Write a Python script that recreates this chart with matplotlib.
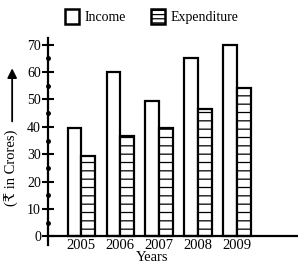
import numpy as np
import matplotlib.pyplot as plt
from matplotlib.patches import Patch

plt.rcParams['font.family'] = ['Liberation Serif', 'DejaVu Serif']
plt.rcParams['hatch.linewidth'] = 0.9

# Données
years = ['2005', '2006', '2007', '2008', '2009']
income = [39.5, 60, 49.5, 65, 70]
expenditure = [29.5, 36.5, 39.5, 46.5, 54]
yticks = [0, 10, 20, 30, 40, 50, 60, 70]
ydots = [5, 15, 25, 35, 45, 55, 65]

fig = plt.figure(figsize=(3.04, 2.73), dpi=100)
ax = fig.add_axes([0.158, 0.1026, 0.822, 0.758])

x = np.arange(len(years))
w = 0.35
ax.bar(x - w / 2, income, w, color='white', edgecolor='black', linewidth=1.6)
ax.bar(x + w / 2, expenditure, w, color='white', edgecolor='black',
       linewidth=1.6, hatch='--')

ax.set_xlim(-0.85, 5.56)
ax.set_ylim(-3.1, 72.4)

for s in ['top', 'right', 'bottom']:
    ax.spines[s].set_visible(False)
ax.spines['left'].set_linewidth(1.6)
ax.axhline(0, color='black', lw=1.6)

ax.set_yticks(yticks)
ax.tick_params(axis='y', direction='inout', length=8, width=1.5, labelsize=10, pad=1)
ax.plot([-0.85] * len(ydots), ydots, 'ko', ms=2.5, clip_on=False)

ax.set_xticks(x)
ax.set_xticklabels(years)
ax.tick_params(axis='x', length=0, labelsize=10.5, pad=-4)

fig.text(0.50, 0.057, 'Years', ha='center', va='center', fontsize=10.5)

# axe Y : libellé + flèche
fig.text(0.04, 0.385, '(\u20b9 in Crores)', rotation=90, ha='center', va='center',
         fontsize=10.5)
ax.annotate('', xy=(0.04, 0.76), xycoords='figure fraction',
            xytext=(0.04, 0.545), textcoords='figure fraction',
            arrowprops=dict(arrowstyle='-|>', color='black', lw=1.3,
                            mutation_scale=14))

handles = [Patch(facecolor='white', edgecolor='black', linewidth=1.8),
           Patch(facecolor='white', edgecolor='black', linewidth=1.8, hatch='----')]
fig.legend(handles, ['Income', 'Expenditure'], ncol=2, frameon=False,
           loc='center', bbox_to_anchor=(0.50, 0.94), fontsize=10,
           handlelength=1.0, handleheight=1.3, handletextpad=0.4,
           columnspacing=1.8)

plt.savefig('out.png', dpi=100)
